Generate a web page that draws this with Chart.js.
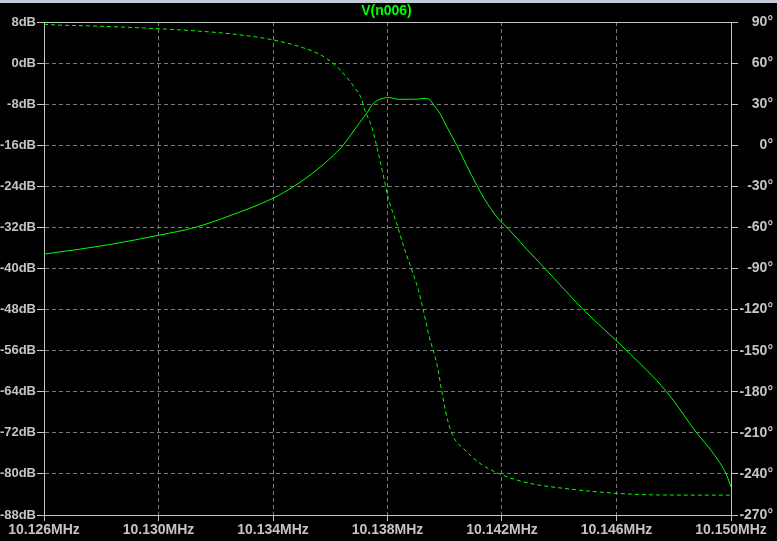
<!DOCTYPE html>
<html><head><meta charset="utf-8">
<script src="https://cdn.jsdelivr.net/npm/chart.js@4/dist/chart.umd.min.js"></script>
<style>
html,body{margin:0;padding:0;background:#000;}
#wrap{position:relative;width:777px;height:541px;overflow:hidden;}
#strip{position:absolute;left:0;top:0;width:777px;height:3px;background:#c3ccd6;}
canvas{display:block;}
</style></head><body>
<div id="wrap"><canvas id="c" width="777" height="541"></canvas><div id="strip"></div></div>
<script>
// ---- data ----
const titleText = 'V(n006)';
const freqTicks = [10.126, 10.130, 10.134, 10.138, 10.142, 10.146, 10.150];
const dbTicks = [8, 0, -8, -16, -24, -32, -40, -48, -56, -64, -72, -80, -88];
const degTicks = [90, 60, 30, 0, -30, -60, -90, -120, -150, -180, -210, -240, -270];

const magFreq = [10.12600, 10.12716, 10.12833, 10.13003, 10.13128, 10.13240, 10.13401, 10.13473, 10.13515, 10.13555,
  10.13599, 10.13645, 10.13669, 10.13704, 10.13727, 10.13748, 10.13767, 10.13785, 10.13806, 10.13838,
  10.13872, 10.13908, 10.13925, 10.13949, 10.13959, 10.13983, 10.14007, 10.14042, 10.14077, 10.14112,
  10.14137, 10.14164, 10.14190, 10.14219, 10.14284, 10.14350, 10.14484, 10.14636, 10.14775, 10.14880,
  10.14938, 10.14983, 10.15000];
const magDb = [-37.2, -36.3, -35.3, -33.5, -32.0, -29.9, -26.3, -24.0, -22.4, -20.7,
  -18.6, -16.0, -14.2, -11.5, -9.8, -8.0, -7.2, -6.85, -6.7, -7.05,
  -7.05, -7.0, -6.86, -7.2, -8.0, -9.8, -12.4, -16.0, -20.0, -23.8,
  -26.3, -28.6, -30.5, -32.1, -36.1, -40.0, -48.0, -56.0, -64.0, -72.0,
  -76.0, -80.0, -82.5];

const phaseFreq = [10.12600, 10.12647, 10.12769, 10.12949, 10.13124, 10.13281, 10.13401, 10.13508, 10.13567, 10.13613,
  10.13648, 10.13683, 10.13709, 10.13721, 10.13745, 10.13768, 10.13785, 10.13803, 10.13832, 10.13855,
  10.13885, 10.13908, 10.13925, 10.13943, 10.13954, 10.13972, 10.13989, 10.14007, 10.14030, 10.14065,
  10.14123, 10.14201, 10.14298, 10.14414, 10.14603, 10.14764, 10.15000];
const phaseDeg = [88.3, 87.8, 87.1, 85.6, 83.6, 80.7, 76.9, 71.0, 65.9, 59.3,
  52.0, 42.7, 34.0, 25.5, 13.5, -5.9, -21.7, -38.8, -57.1, -72.9,
  -91.2, -105.8, -120.4, -137.3, -146.0, -159.3, -178.8, -198.2, -212.9, -221.4,
  -232.3, -240.8, -246.9, -250.5, -254.2, -255.4, -255.5];

// ---- styling ----
const GREEN = '#00ff00';
const LABEL = '#c4c4c4';
const GRID = '#7a7a7a';
const FRAME = '#c4c4c4';
const FAMILY = "'Liberation Sans', Arial, sans-serif";
const FONT = {family: FAMILY, size: 14, weight: 'bold'};
const FONT_LEFT = {family: FAMILY, size: 13, weight: 'bold'};

const framePlugin = {
  id: 'frame',
  beforeDatasetsDraw(chart) {
    const {ctx, chartArea: a} = chart;
    ctx.save();
    ctx.strokeStyle = FRAME;
    ctx.lineWidth = 1;
    ctx.setLineDash([]);
    ctx.strokeRect(a.left + 0.5, a.top + 0.5, a.right - a.left, a.bottom - a.top);
    ctx.restore();
  }
};

new Chart(document.getElementById('c'), {
  type: 'line',
  data: {
    datasets: [
      {
        label: 'magnitude',
        data: magFreq.map((f, i) => ({x: f, y: magDb[i]})),
        yAxisID: 'y',
        borderColor: GREEN,
        borderWidth: 1,
        pointRadius: 0,
        cubicInterpolationMode: 'monotone'
      },
      {
        label: 'phase',
        data: phaseFreq.map((f, i) => ({x: f, y: phaseDeg[i]})),
        yAxisID: 'y2',
        borderColor: GREEN,
        borderWidth: 1,
        borderDash: [4, 3],
        pointRadius: 0,
        cubicInterpolationMode: 'monotone'
      }
    ]
  },
  options: {
    responsive: false,
    animation: false,
    events: [],
    layout: {padding: {top: 0, left: 0, right: 4, bottom: 0}},
    plugins: {
      legend: {display: false},
      tooltip: {enabled: false},
      title: {
        display: true,
        text: titleText,
        color: GREEN,
        font: {family: FAMILY, size: 14, weight: 'bold'},
        padding: {top: 3, bottom: 2.2}
      }
    },
    scales: {
      x: {
        type: 'linear',
        min: freqTicks[0],
        max: freqTicks[freqTicks.length - 1],
        afterBuildTicks: s => { s.ticks = freqTicks.map(v => ({value: v})); },
        afterFit: s => { s.height = 26; },
        ticks: {
          color: LABEL, font: FONT, padding: 1, maxRotation: 0, autoSkip: false,
          callback: v => Number(v).toFixed(3) + 'MHz'
        },
        grid: {color: GRID, tickColor: FRAME, tickLength: 6, tickBorderDash: [1, 0]},
        border: {display: true, color: FRAME, dash: [4, 3]}
      },
      y: {
        type: 'linear',
        position: 'left',
        min: dbTicks[dbTicks.length - 1],
        max: dbTicks[0],
        afterBuildTicks: s => { s.ticks = dbTicks.slice().reverse().map(v => ({value: v})); },
        afterFit: s => { s.width = 44; },
        ticks: {color: LABEL, font: FONT_LEFT, padding: 1, autoSkip: false, callback: v => v + 'dB'},
        grid: {color: GRID, tickColor: FRAME, tickLength: 7, tickBorderDash: [1, 0]},
        border: {display: true, color: FRAME, dash: [4, 3]}
      },
      y2: {
        type: 'linear',
        position: 'right',
        min: degTicks[degTicks.length - 1],
        max: degTicks[0],
        afterBuildTicks: s => { s.ticks = degTicks.slice().reverse().map(v => ({value: v})); },
        afterFit: s => { s.width = 42; },
        ticks: {color: LABEL, font: FONT, padding: 2, autoSkip: false, crossAlign: 'far', callback: v => v + '°'},
        grid: {drawOnChartArea: false, tickColor: FRAME, tickLength: 7, tickBorderDash: [1, 0]},
        border: {display: true, color: FRAME}
      }
    }
  },
  plugins: [framePlugin]
});
</script>
</body></html>
